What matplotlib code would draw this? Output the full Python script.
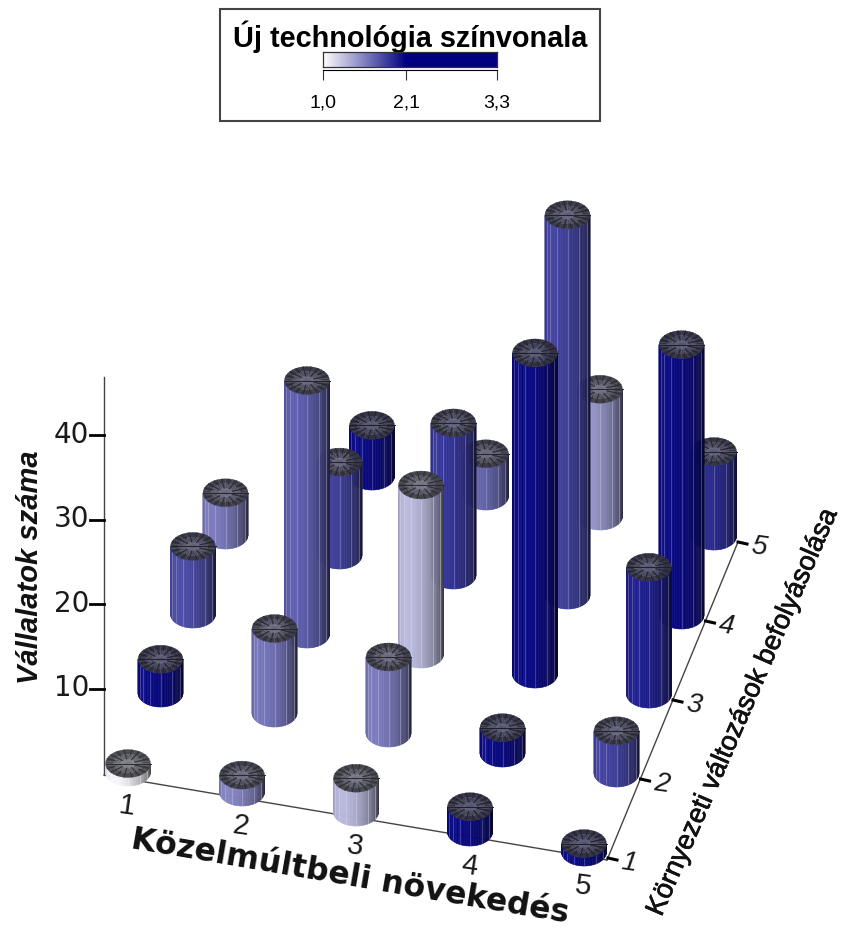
"""Oblique 3D cylinder chart, drawn on a pixel-sized matplotlib axes."""

import matplotlib

matplotlib.use("Agg")
import matplotlib.patheffects as pe
import matplotlib.pyplot as plt
import numpy as np
from matplotlib.collections import LineCollection, PolyCollection
from matplotlib.colors import LinearSegmentedColormap, to_rgb

WIDTH, HEIGHT = 843, 928

growth_levels = [1, 2, 3, 4, 5]
environment_levels = [1, 2, 3, 4, 5]

# rows: environment level 1..5, columns: growth level 1..5
company_counts = [
    [1, 2, 4, 3, 1],
    [4, 10, 9, 3, 5],
    [8, 30, 20, 38, 15],
    [5, 11, 18, 45, 32],
    [np.nan, 6, 5, 15, 10],
]
tech_levels = [
    [1.05, 1.55, 1.33, 2.3, 2.1],
    [2.3, 1.62, 1.6, 2.1, 1.85],
    [1.8, 1.72, 1.32, 2.3, 2.0],
    [1.6, 1.85, 1.9, 1.85, 2.3],
    [np.nan, 2.2, 1.68, 1.47, 1.95],
]
count_ticks = [10, 20, 30, 40]
legend_ticks = [1.0, 2.1, 3.3]
legend_tick_labels = ["1,0", "2,1", "3,3"]

# oblique projection: pixel offsets per unit of each axis
ORIGIN = (128, 773)
STEP_GROWTH = (114, 20)
STEP_ENV = (32.5, -79)
STEP_COUNT = 8.45
RADIUS_X, RADIUS_Y = 22.5, 14

tech_cmap = LinearSegmentedColormap.from_list(
    "tech", [(0, "#ffffff"), (1.1 / 2.3, "#000080"), (1, "#000080")]
)


def tech_color(value):
    return np.array(tech_cmap((value - 1.0) / 2.3)[:3])


def project(growth, env, count=0.0):
    x = ORIGIN[0] + STEP_GROWTH[0] * (growth - 1) + STEP_ENV[0] * (env - 1)
    y = ORIGIN[1] + STEP_GROWTH[1] * (growth - 1) + STEP_ENV[1] * (env - 1)
    return x, y - STEP_COUNT * count


def shade(color, angle):
    # angle 0 = left edge, pi = right edge of the visible side
    f = 0.52 + 0.46 * np.cos(angle - 0.95)
    return tuple(color * f + 0.03)


def draw_cylinder(ax, growth, env, count, tech, zorder):
    cx, base = project(growth, env)
    top = base - STEP_COUNT * count
    color = tech_color(tech)

    # side of the cylinder
    n = 40
    angles = np.linspace(0, np.pi, n + 1)
    xs = cx - RADIUS_X * np.cos(angles)
    ys = RADIUS_Y * np.sin(angles)
    polys, colors = [], []
    for k in range(n):
        polys.append(
            [
                (xs[k], top + ys[k]),
                (xs[k + 1], top + ys[k + 1]),
                (xs[k + 1], base + ys[k + 1]),
                (xs[k], base + ys[k]),
            ]
        )
        colors.append(shade(color, (angles[k] + angles[k + 1]) / 2))
    ax.add_collection(
        PolyCollection(polys, facecolors=colors, edgecolors=colors, linewidths=0.4, zorder=zorder)
    )

    # thin light facet lines
    segs = [[(xs[k], top + ys[k]), (xs[k], base + ys[k])] for k in (5, 9, 14, 20, 27, 33)]
    light = tuple(color + (1 - color) * 0.55)
    ax.add_collection(LineCollection(segs, colors=[light], linewidths=0.6, alpha=0.5, zorder=zorder + 0.1))

    # cap: dark wedges, lighter towards the middle
    grey = np.array(to_rgb("#55555e"))
    cap = 0.8 * grey + 0.2 * color * 0.7
    m = 36
    cap_angles = np.linspace(0, 2 * np.pi, m + 1)
    rings = [(0.66, 1.0, 0.72), (0.33, 0.66, 0.95), (0.0, 0.33, 1.2)]
    wedges, wedge_colors = [], []
    for k in range(m):
        a0, a1 = cap_angles[k], cap_angles[k + 1]
        for inner, outer, f in rings:
            wedges.append(
                [
                    (cx + inner * RADIUS_X * np.cos(a0), top + inner * RADIUS_Y * np.sin(a0)),
                    (cx + outer * RADIUS_X * np.cos(a0), top + outer * RADIUS_Y * np.sin(a0)),
                    (cx + outer * RADIUS_X * np.cos(a1), top + outer * RADIUS_Y * np.sin(a1)),
                    (cx + inner * RADIUS_X * np.cos(a1), top + inner * RADIUS_Y * np.sin(a1)),
                ]
            )
            wedge_colors.append(tuple(np.clip(cap * f, 0, 1)))
    ax.add_collection(
        PolyCollection(wedges, facecolors=wedge_colors, edgecolors=wedge_colors, linewidths=0.2, zorder=zorder + 0.2)
    )

    # dark spokes of alternating length
    spokes = []
    for k, a in enumerate(cap_angles[:-1:2]):
        inner = 0.3 if k % 2 else 0.6
        spokes.append(
            [
                (cx + inner * RADIUS_X * np.cos(a), top + inner * RADIUS_Y * np.sin(a)),
                (cx + RADIUS_X * np.cos(a), top + RADIUS_Y * np.sin(a)),
            ]
        )
    ax.add_collection(
        LineCollection(spokes, colors=[tuple(cap * 0.45)], linewidths=0.7, zorder=zorder + 0.3)
    )
    ax.plot(
        [cx - RADIUS_X, cx + RADIUS_X],
        [top, top],
        color=tuple(cap * 0.45),
        lw=0.7,
        zorder=zorder + 0.3,
    )


fig = plt.figure(figsize=(WIDTH / 100, HEIGHT / 100), dpi=100, facecolor="white")
ax = fig.add_axes([0, 0, 1, 1])
ax.set_xlim(0, WIDTH)
ax.set_ylim(HEIGHT, 0)
ax.axis("off")

# axis lines
axis_x, axis_base = 104, 776
ax.plot([axis_x, axis_x], [378, axis_base], color="#444444", lw=1, zorder=1)
ax.plot([axis_x, 607], [axis_base, 861], color="#444444", lw=1, zorder=1)
ax.plot([607, 738], [861, 543], color="#444444", lw=1, zorder=1)

# count axis
for value in count_ticks:
    y = 774 - STEP_COUNT * value
    ax.plot([axis_x - 14, axis_x], [y, y], color="black", lw=2, zorder=1)
    ax.text(axis_x - 15, y - 1, str(value), family="DejaVu Sans", fontsize=20,
            ha="right", va="center", color="#1a1a1a")

# growth axis
for level in growth_levels:
    x, y = project(level, 1)
    ax.text(x - 1, y + 33, str(level), family="Liberation Sans", fontsize=21,
            rotation=-8, ha="center", va="center", color="#1a1a1a")

# environment axis
for level in environment_levels:
    x, y = project(5, level)
    ax.plot([x + 24, x + 33], [y + 6, y + 8], color="black", lw=2.2, zorder=60)
    ax.text(x + 45, y + 10, str(level), family="Liberation Sans", style="italic",
            fontsize=20, rotation=-8, ha="center", va="center", color="#1a1a1a")

# cylinders, back to front
z = 2
for env in sorted(environment_levels, reverse=True):
    for growth in growth_levels:
        count = company_counts[env - 1][growth - 1]
        if np.isnan(count):
            continue
        draw_cylinder(ax, growth, env, count, tech_levels[env - 1][growth - 1], z)
        z += 1

# axis titles
ax.text(350, 877, "Közelmúltbeli növekedés", family="DejaVu Sans", fontweight="bold",
        fontsize=22.7, rotation=-9.7, ha="center", va="center", color="#111111", rotation_mode="anchor")
right_title = ax.text(743, 713, "Környezeti változások befolyásolása", family="Liberation Sans",
                      fontsize=19.7, rotation=66.5, ha="center", va="center", color="#111111",
                      rotation_mode="anchor")
right_title.set_path_effects([pe.withStroke(linewidth=0.5, foreground="#111111")])
ax.text(30, 567, "Vállalatok száma", family="Liberation Sans", fontweight="bold", style="italic",
        fontsize=21, rotation=90, ha="center", va="center", color="#111111")

# legend box
ax.add_patch(plt.Rectangle((220, 10), 380, 112, facecolor="white", edgecolor="#444444", lw=1.5, zorder=1))
ax.text(410, 37, "Új technológia színvonala", family="Liberation Sans", fontweight="bold",
        fontsize=20.8, ha="center", va="center", color="black")

bar_ax = fig.add_axes([323 / WIDTH, 1 - 68 / HEIGHT, 174 / WIDTH, 15 / HEIGHT])
bar_ax.imshow(
    np.linspace(legend_ticks[0], legend_ticks[-1], 256)[None, :],
    cmap=tech_cmap,
    aspect="auto",
    extent=(legend_ticks[0], legend_ticks[-1], 0, 1),
)
bar_ax.set_xticks([])
bar_ax.set_yticks([])
for spine in bar_ax.spines.values():
    spine.set_linewidth(0.9)
    spine.set_color("#333333")

scale_ax = fig.add_axes([323 / WIDTH, 1 - 71 / HEIGHT, 174 / WIDTH, 0.0001])
scale_ax.set_xlim(legend_ticks[0], legend_ticks[-1])
scale_ax.set_yticks([])
for name in ("top", "left", "right"):
    scale_ax.spines[name].set_visible(False)
scale_ax.spines["bottom"].set_linewidth(0.8)
scale_ax.set_xticks(legend_ticks)
scale_ax.set_xticklabels(legend_tick_labels, family="Liberation Sans", fontsize=14)
scale_ax.tick_params(axis="x", length=7, width=0.8, pad=10, color="#333333")

fig.savefig("out.png", dpi=100)
plt.close(fig)
